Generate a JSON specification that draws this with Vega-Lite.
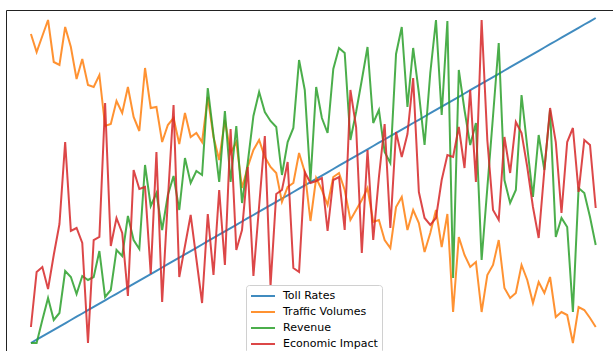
{
  "$schema": "https://vega.github.io/schema/vega-lite/v6.json",
  "width": 607,
  "height": 341,
  "autosize": {"type": "none"},
  "padding": {"left": 6, "top": 10, "right": 0, "bottom": 0},
  "background": "white",
  "config": {"view": {"stroke": null}},
  "data": {"values": [
{"i":0,"Toll Rates":8,"Traffic Volumes":317,"Revenue":8,"Economic Impact":24},
{"i":1,"Toll Rates":11.3,"Traffic Volumes":299,"Revenue":8,"Economic Impact":79},
{"i":2,"Toll Rates":14.6,"Traffic Volumes":315,"Revenue":31,"Economic Impact":84},
{"i":3,"Toll Rates":17.8,"Traffic Volumes":331,"Revenue":53,"Economic Impact":62},
{"i":4,"Toll Rates":21.1,"Traffic Volumes":289,"Revenue":31,"Economic Impact":96},
{"i":5,"Toll Rates":24.4,"Traffic Volumes":286,"Revenue":38,"Economic Impact":127},
{"i":6,"Toll Rates":27.7,"Traffic Volumes":324,"Revenue":80,"Economic Impact":209},
{"i":7,"Toll Rates":31.0,"Traffic Volumes":304,"Revenue":74,"Economic Impact":120},
{"i":8,"Toll Rates":34.3,"Traffic Volumes":272,"Revenue":57,"Economic Impact":123},
{"i":9,"Toll Rates":37.5,"Traffic Volumes":292,"Revenue":75,"Economic Impact":108},
{"i":10,"Toll Rates":40.8,"Traffic Volumes":266,"Revenue":71,"Economic Impact":8},
{"i":11,"Toll Rates":44.1,"Traffic Volumes":264,"Revenue":74,"Economic Impact":111},
{"i":12,"Toll Rates":47.4,"Traffic Volumes":276,"Revenue":100,"Economic Impact":114},
{"i":13,"Toll Rates":50.7,"Traffic Volumes":225,"Revenue":54,"Economic Impact":248},
{"i":14,"Toll Rates":54.0,"Traffic Volumes":227,"Revenue":61,"Economic Impact":105},
{"i":15,"Toll Rates":57.2,"Traffic Volumes":250,"Revenue":101,"Economic Impact":133},
{"i":16,"Toll Rates":60.5,"Traffic Volumes":238,"Revenue":95,"Economic Impact":118},
{"i":17,"Toll Rates":63.8,"Traffic Volumes":264,"Revenue":135,"Economic Impact":55},
{"i":18,"Toll Rates":67.1,"Traffic Volumes":234,"Revenue":111,"Economic Impact":181},
{"i":19,"Toll Rates":70.4,"Traffic Volumes":220,"Revenue":102,"Economic Impact":162},
{"i":20,"Toll Rates":73.7,"Traffic Volumes":283,"Revenue":186,"Economic Impact":164},
{"i":21,"Toll Rates":76.9,"Traffic Volumes":243,"Revenue":145,"Economic Impact":77},
{"i":22,"Toll Rates":80.2,"Traffic Volumes":244,"Revenue":158,"Economic Impact":199},
{"i":23,"Toll Rates":83.5,"Traffic Volumes":209,"Revenue":121,"Economic Impact":49},
{"i":24,"Toll Rates":86.8,"Traffic Volumes":226,"Revenue":156,"Economic Impact":151},
{"i":25,"Toll Rates":90.1,"Traffic Volumes":233,"Revenue":175,"Economic Impact":246},
{"i":26,"Toll Rates":93.4,"Traffic Volumes":207,"Revenue":141,"Economic Impact":74},
{"i":27,"Toll Rates":96.6,"Traffic Volumes":238,"Revenue":193,"Economic Impact":105},
{"i":28,"Toll Rates":99.9,"Traffic Volumes":214,"Revenue":168,"Economic Impact":136},
{"i":29,"Toll Rates":103.2,"Traffic Volumes":218,"Revenue":180,"Economic Impact":92},
{"i":30,"Toll Rates":106.5,"Traffic Volumes":209,"Revenue":176,"Economic Impact":48},
{"i":31,"Toll Rates":109.8,"Traffic Volumes":254,"Revenue":263,"Economic Impact":137},
{"i":32,"Toll Rates":113.1,"Traffic Volumes":214,"Revenue":216,"Economic Impact":76},
{"i":33,"Toll Rates":116.3,"Traffic Volumes":191,"Revenue":169,"Economic Impact":161},
{"i":34,"Toll Rates":119.6,"Traffic Volumes":231,"Revenue":240,"Economic Impact":86},
{"i":35,"Toll Rates":122.9,"Traffic Volumes":198,"Revenue":169,"Economic Impact":222},
{"i":36,"Toll Rates":126.2,"Traffic Volumes":209,"Revenue":225,"Economic Impact":101},
{"i":37,"Toll Rates":129.5,"Traffic Volumes":163,"Revenue":148,"Economic Impact":121},
{"i":38,"Toll Rates":132.8,"Traffic Volumes":184,"Revenue":188,"Economic Impact":184},
{"i":39,"Toll Rates":136.0,"Traffic Volumes":201,"Revenue":235,"Economic Impact":75},
{"i":40,"Toll Rates":139.3,"Traffic Volumes":211,"Revenue":259,"Economic Impact":145},
{"i":41,"Toll Rates":142.6,"Traffic Volumes":194,"Revenue":239,"Economic Impact":215},
{"i":42,"Toll Rates":145.9,"Traffic Volumes":184,"Revenue":230,"Economic Impact":65},
{"i":43,"Toll Rates":149.2,"Traffic Volumes":178,"Revenue":224,"Economic Impact":157},
{"i":44,"Toll Rates":152.5,"Traffic Volumes":149,"Revenue":176,"Economic Impact":161},
{"i":45,"Toll Rates":155.7,"Traffic Volumes":164,"Revenue":209,"Economic Impact":189},
{"i":46,"Toll Rates":159.0,"Traffic Volumes":168,"Revenue":223,"Economic Impact":83},
{"i":47,"Toll Rates":162.3,"Traffic Volumes":198,"Revenue":291,"Economic Impact":79},
{"i":48,"Toll Rates":165.6,"Traffic Volumes":179,"Revenue":261,"Economic Impact":179},
{"i":49,"Toll Rates":168.9,"Traffic Volumes":130,"Revenue":170,"Economic Impact":168},
{"i":50,"Toll Rates":172.2,"Traffic Volumes":173,"Revenue":264,"Economic Impact":170},
{"i":51,"Toll Rates":175.4,"Traffic Volumes":161,"Revenue":233,"Economic Impact":173},
{"i":52,"Toll Rates":178.7,"Traffic Volumes":146,"Revenue":218,"Economic Impact":120},
{"i":53,"Toll Rates":182.0,"Traffic Volumes":174,"Revenue":282,"Economic Impact":171},
{"i":54,"Toll Rates":185.3,"Traffic Volumes":178,"Revenue":303,"Economic Impact":174},
{"i":55,"Toll Rates":188.6,"Traffic Volumes":161,"Revenue":298,"Economic Impact":121},
{"i":56,"Toll Rates":191.8,"Traffic Volumes":131,"Revenue":211,"Economic Impact":261},
{"i":57,"Toll Rates":195.1,"Traffic Volumes":141,"Revenue":239,"Economic Impact":224},
{"i":58,"Toll Rates":198.4,"Traffic Volumes":151,"Revenue":271,"Economic Impact":98},
{"i":59,"Toll Rates":201.7,"Traffic Volumes":163,"Revenue":304,"Economic Impact":201},
{"i":60,"Toll Rates":205.0,"Traffic Volumes":129,"Revenue":228,"Economic Impact":111},
{"i":61,"Toll Rates":208.3,"Traffic Volumes":131,"Revenue":241,"Economic Impact":174},
{"i":62,"Toll Rates":211.5,"Traffic Volumes":111,"Revenue":199,"Economic Impact":227},
{"i":63,"Toll Rates":214.8,"Traffic Volumes":103,"Revenue":188,"Economic Impact":123},
{"i":64,"Toll Rates":218.1,"Traffic Volumes":144,"Revenue":297,"Economic Impact":219},
{"i":65,"Toll Rates":221.4,"Traffic Volumes":154,"Revenue":324,"Economic Impact":194},
{"i":66,"Toll Rates":224.7,"Traffic Volumes":121,"Revenue":244,"Economic Impact":217},
{"i":67,"Toll Rates":228.0,"Traffic Volumes":141,"Revenue":303,"Economic Impact":273},
{"i":68,"Toll Rates":231.2,"Traffic Volumes":128,"Revenue":258,"Economic Impact":159},
{"i":69,"Toll Rates":234.5,"Traffic Volumes":99,"Revenue":206,"Economic Impact":133},
{"i":70,"Toll Rates":237.8,"Traffic Volumes":118,"Revenue":278,"Economic Impact":126},
{"i":71,"Toll Rates":241.1,"Traffic Volumes":141,"Revenue":331,"Economic Impact":133},
{"i":72,"Toll Rates":244.4,"Traffic Volumes":104,"Revenue":236,"Economic Impact":171},
{"i":73,"Toll Rates":247.7,"Traffic Volumes":137,"Revenue":330,"Economic Impact":196},
{"i":74,"Toll Rates":250.9,"Traffic Volumes":39,"Revenue":73,"Economic Impact":194},
{"i":75,"Toll Rates":254.2,"Traffic Volumes":114,"Revenue":281,"Economic Impact":224},
{"i":76,"Toll Rates":257.5,"Traffic Volumes":96,"Revenue":241,"Economic Impact":183},
{"i":77,"Toll Rates":260.8,"Traffic Volumes":84,"Revenue":206,"Economic Impact":261},
{"i":78,"Toll Rates":264.1,"Traffic Volumes":89,"Revenue":228,"Economic Impact":169},
{"i":79,"Toll Rates":267.4,"Traffic Volumes":39,"Revenue":91,"Economic Impact":331},
{"i":80,"Toll Rates":270.6,"Traffic Volumes":76,"Revenue":163,"Economic Impact":211},
{"i":81,"Toll Rates":273.9,"Traffic Volumes":86,"Revenue":235,"Economic Impact":141},
{"i":82,"Toll Rates":277.2,"Traffic Volumes":111,"Revenue":308,"Economic Impact":131},
{"i":83,"Toll Rates":280.5,"Traffic Volumes":63,"Revenue":171,"Economic Impact":214},
{"i":84,"Toll Rates":283.8,"Traffic Volumes":53,"Revenue":148,"Economic Impact":178},
{"i":85,"Toll Rates":287.1,"Traffic Volumes":58,"Revenue":161,"Economic Impact":229},
{"i":86,"Toll Rates":290.3,"Traffic Volumes":86,"Revenue":256,"Economic Impact":218},
{"i":87,"Toll Rates":293.6,"Traffic Volumes":71,"Revenue":204,"Economic Impact":184},
{"i":88,"Toll Rates":296.9,"Traffic Volumes":48,"Revenue":154,"Economic Impact":144},
{"i":89,"Toll Rates":300.2,"Traffic Volumes":69,"Revenue":216,"Economic Impact":113},
{"i":90,"Toll Rates":303.5,"Traffic Volumes":58,"Revenue":181,"Economic Impact":181},
{"i":91,"Toll Rates":306.8,"Traffic Volumes":74,"Revenue":241,"Economic Impact":243},
{"i":92,"Toll Rates":310.0,"Traffic Volumes":34,"Revenue":114,"Economic Impact":209},
{"i":93,"Toll Rates":313.3,"Traffic Volumes":39,"Revenue":133,"Economic Impact":138},
{"i":94,"Toll Rates":316.6,"Traffic Volumes":36,"Revenue":124,"Economic Impact":209},
{"i":95,"Toll Rates":319.9,"Traffic Volumes":8,"Revenue":39,"Economic Impact":223},
{"i":96,"Toll Rates":323.2,"Traffic Volumes":44,"Revenue":163,"Economic Impact":159},
{"i":97,"Toll Rates":326.5,"Traffic Volumes":41,"Revenue":158,"Economic Impact":211},
{"i":98,"Toll Rates":329.7,"Traffic Volumes":33,"Revenue":134,"Economic Impact":206},
{"i":99,"Toll Rates":333.0,"Traffic Volumes":24,"Revenue":106,"Economic Impact":143}
  ]},
  "transform": [{"fold": ["Toll Rates", "Traffic Volumes", "Revenue", "Economic Impact"], "as": ["series", "v"]}],
  "mark": {"type": "line", "strokeWidth": 2, "opacity": 0.85, "clip": true},
  "encoding": {
    "x": {"field": "i", "type": "quantitative",
      "scale": {"domain": [-4.37, 102.03], "nice": false, "zero": false},
      "axis": {"orient": "top", "domain": true, "domainColor": "#222", "domainWidth": 1, "ticks": false, "labels": false, "grid": false, "title": null}},
    "y": {"field": "v", "type": "quantitative",
      "scale": {"domain": [0, 341], "nice": false, "zero": false},
      "axis": {"orient": "left", "domain": true, "domainColor": "#222", "domainWidth": 1, "ticks": false, "labels": false, "grid": false, "title": null}},
    "color": {"field": "series", "type": "nominal",
      "scale": {"domain": ["Toll Rates", "Traffic Volumes", "Revenue", "Economic Impact"], "range": ["#1f77b4", "#ff7f0e", "#2ca02c", "#d62728"]},
      "legend": {"orient": "none", "legendX": 240, "legendY": 275, "title": null, "symbolType": "M-1,0H3", "symbolSize": 144, "symbolStrokeWidth": 2, "labelFontSize": 11, "labelFont": "DejaVu Sans", "labelColor": "#000", "labelOffset": 19, "padding": 4, "strokeColor": "#d0d0d0", "fillColor": "rgba(255,255,255,0.8)", "cornerRadius": 3, "rowPadding": 4}}
  }
}
